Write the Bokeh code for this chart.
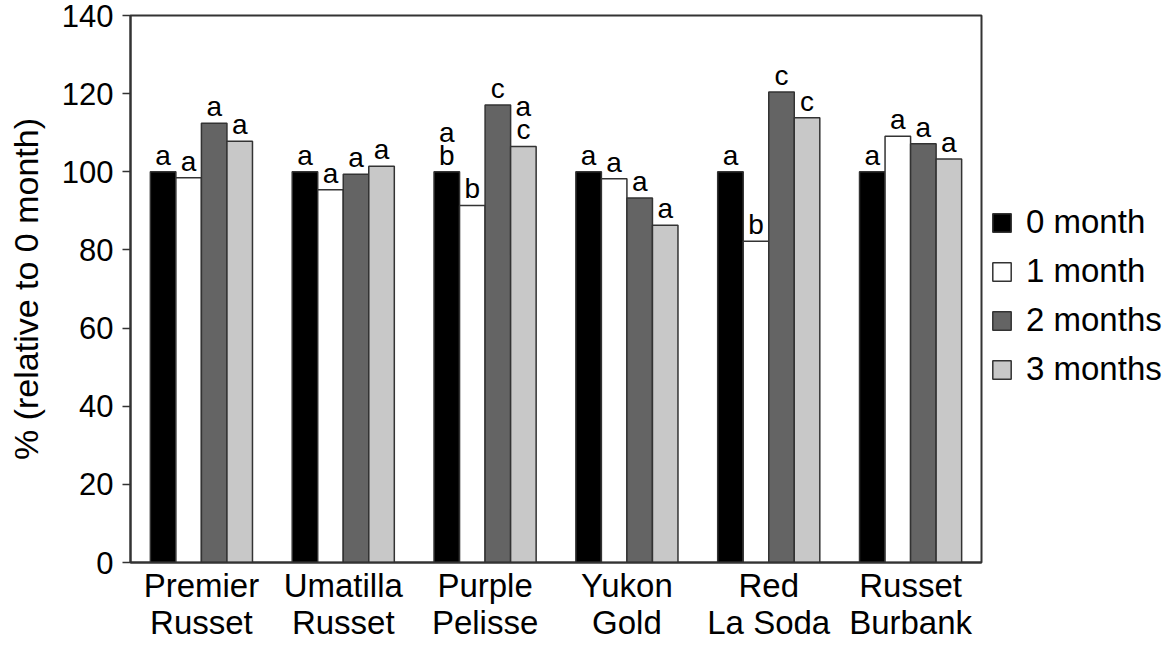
from bokeh.plotting import figure
from bokeh.models import ColumnDataSource, FactorRange, Legend, LegendItem, Range1d, FixedTicker
from bokeh.transform import dodge
from bokeh.core.properties import value
from bokeh.embed import file_html
from bokeh.resources import INLINE

categories = ["Premier\nRusset", "Umatilla\nRusset", "Purple\nPelisse", "Yukon\nGold", "Red\nLa Soda", "Russet\nBurbank"]
series_names = ["0 month", "1 month", "2 months", "3 months"]
m0 = [100, 100, 100, 100, 100, 100]
m1 = [98.5, 95.4, 91.4, 98.2, 82.2, 109.1]
m2 = [112.4, 99.4, 117.1, 93.3, 120.4, 107.2]
m3 = [107.8, 101.4, 106.5, 86.3, 113.8, 103.3]
lab0 = ["a", "a", "b", "a", "a", "a"]
lab0_top = ["", "", "a", "", "", ""]
lab1 = ["a", "a", "b", "a", "b", "a"]
lab2 = ["a", "a", "c", "a", "c", "a"]
lab3 = ["a", "a", "c", "a", "c", "a"]
lab3_top = ["", "", "a", "", "", ""]
y_ticks = [0, 20, 40, 60, 80, 100, 120, 140]

FONT = "Liberation Sans"
colors = ["#000000", "#ffffff", "#646464", "#c8c8c8"]
offsets = [-0.27, -0.09, 0.09, 0.27]
bw = 0.18

src = ColumnDataSource(dict(cat=categories, m0=m0, m1=m1, m2=m2, m3=m3,
                            lab0=lab0, lab0_top=lab0_top, lab1=lab1, lab2=lab2,
                            lab3=lab3, lab3_top=lab3_top))

p = figure(x_range=FactorRange(*categories), y_range=Range1d(0, 140),
           frame_width=851, frame_height=547, min_border_left=130, min_border_top=15,
           min_border_bottom=0, min_border_right=0,
           output_backend="svg", toolbar_location=None)

renderers = []
for i, col in enumerate(["m0", "m1", "m2", "m3"]):
    r = p.vbar(x=dodge("cat", offsets[i], range=p.x_range), top=col, width=bw, source=src,
               fill_color=colors[i], line_color="#333333", line_width=1.5)
    renderers.append(r)

label_cols = [("m0", "lab0", 0), ("m0", "lab0_top", 0), ("m1", "lab1", 1),
              ("m2", "lab2", 2), ("m3", "lab3", 3), ("m3", "lab3_top", 3)]
for ycol, tcol, i in label_cols:
    yo = -24 if tcol.endswith("_top") else -1
    p.text(x=dodge("cat", offsets[i], range=p.x_range), y=ycol, text=tcol, source=src,
           text_align="center", text_baseline="bottom", y_offset=yo,
           text_font=value(FONT), text_font_size="28px", text_color="#000000")

legend = Legend(items=[LegendItem(label=series_names[i], renderers=[renderers[i]]) for i in range(4)],
                location=(9, 174), border_line_color=None, background_fill_alpha=0,
                label_text_font=FONT, label_text_font_size="33px", label_text_color="#000000",
                glyph_width=23, glyph_height=23, label_standoff=13, spacing=11,
                margin=9, padding=6)
p.add_layout(legend, "right")

p.grid.visible = False
p.outline_line_color = "#333333"
p.outline_line_width = 2

p.yaxis.ticker = FixedTicker(ticks=y_ticks)
p.yaxis.minor_tick_line_color = None
p.yaxis.major_tick_in = 0
p.yaxis.major_tick_out = 8
p.yaxis.major_tick_line_width = 1.5
p.yaxis.major_tick_line_color = "#333333"
p.yaxis.axis_line_width = 2
p.yaxis.axis_line_color = "#333333"
p.yaxis.major_label_standoff = 9
p.yaxis.major_label_text_font = FONT
p.yaxis.major_label_text_font_size = "31px"
p.yaxis.major_label_text_color = "#000000"
p.yaxis.axis_label = "% (relative to 0 month)"
p.yaxis.axis_label_text_font = FONT
p.yaxis.axis_label_text_font_size = "34px"
p.yaxis.axis_label_text_font_style = "normal"
p.yaxis.axis_label_text_color = "#000000"
p.yaxis.axis_label_standoff = 14

p.xaxis.major_tick_line_color = None
p.xaxis.minor_tick_line_color = None
p.xaxis.axis_line_width = 2
p.xaxis.axis_line_color = "#333333"
p.xaxis.major_label_standoff = -2
p.xaxis.major_label_text_font = FONT
p.xaxis.major_label_text_font_size = "33px"
p.xaxis.major_label_text_line_height = 1.0
p.xaxis.major_label_text_color = "#000000"

open("out.html", "w").write(file_html(p, INLINE))
